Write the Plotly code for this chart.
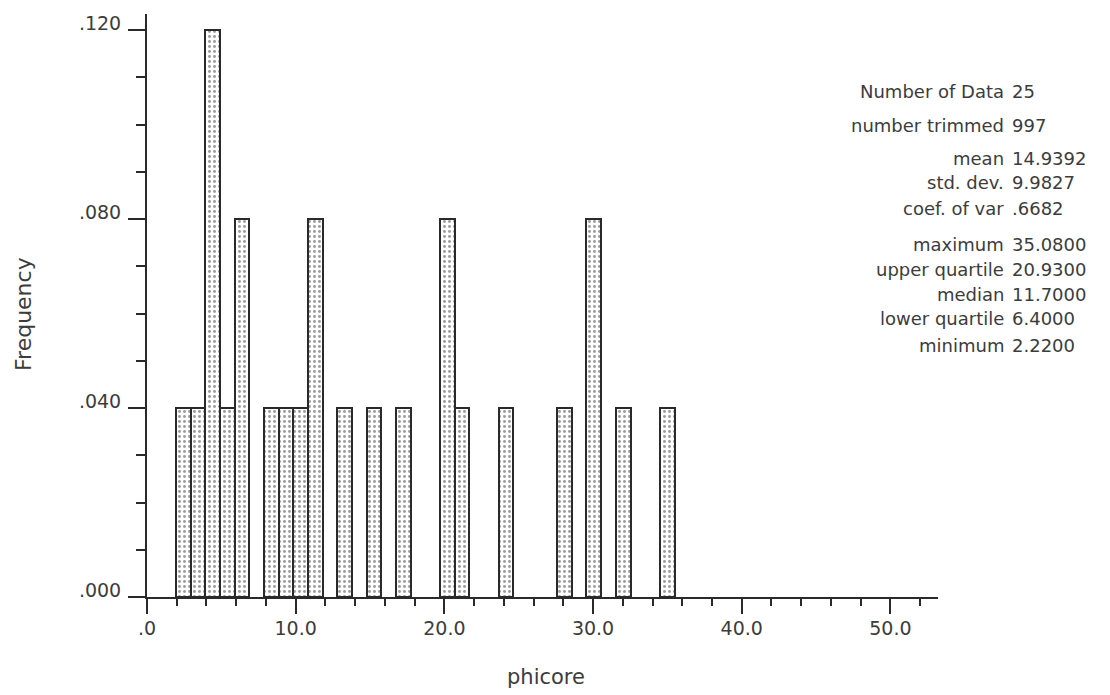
import plotly.graph_objects as go

# Histogram of phicore: bin centres and relative frequencies
bin_centers = [2.44, 3.43, 4.41, 5.40, 6.39, 8.36, 9.35, 10.33, 11.32, 13.30,
               15.27, 17.24, 20.20, 21.18, 24.14, 28.08, 30.05, 32.03, 34.99]
frequencies = [0.04, 0.04, 0.12, 0.04, 0.08, 0.04, 0.04, 0.04, 0.08, 0.04,
               0.04, 0.04, 0.08, 0.04, 0.04, 0.04, 0.08, 0.04, 0.04]
bin_width = 0.986

x_tick_vals = [0, 10, 20, 30, 40, 50]
x_tick_text = [".0", "10.0", "20.0", "30.0", "40.0", "50.0"]
y_tick_vals = [0.0, 0.04, 0.08, 0.12]
y_tick_text = [".000", ".040", ".080", ".120"]

# Summary statistics printed beside the histogram
stat_names = ["Number of Data", "number trimmed", "mean", "std. dev.", "coef. of var",
              "maximum", "upper quartile", "median", "lower quartile", "minimum"]
stat_values = ["25", "997", "14.9392", "9.9827", ".6682",
               "35.0800", "20.9300", "11.7000", "6.4000", "2.2200"]
stat_rows_px = [90, 124, 157, 181, 207, 243, 268, 293, 318, 345]

INK = "#2a2a2a"
TEXT = "#3c3c3c"
FONT = "DejaVu Sans"

W, H = 1110, 695
L, R, T, B = 147, 172, 12, 98
plot_w = W - L - R
plot_h = H - T - B

fig = go.Figure()
fig.add_trace(go.Bar(
    x=bin_centers,
    y=frequencies,
    width=bin_width,
    marker=dict(
        color="white",
        line=dict(color=INK, width=2),
        pattern=dict(shape=".", fgcolor="#3a3a3a", bgcolor="white",
                     size=5, solidity=0.28),
    ),
    showlegend=False,
    hoverinfo="skip",
))

fig.update_layout(
    width=W, height=H,
    margin=dict(l=L, r=R, t=T, b=B, pad=0),
    paper_bgcolor="white",
    plot_bgcolor="white",
    font=dict(family=FONT, size=19, color=TEXT),
    bargap=0,
    xaxis=dict(
        range=[0, 53.2],
        showgrid=False, zeroline=False,
        showline=True, linecolor=INK, linewidth=2,
        ticks="outside", ticklen=15, tickwidth=1.5, tickcolor=INK,
        tickmode="array", tickvals=x_tick_vals, ticktext=x_tick_text,
        ticklabelstandoff=-2,
        tickfont=dict(family=FONT, size=19, color=TEXT),
        minor=dict(ticks="outside", ticklen=7, tickwidth=1.5, tickcolor=INK,
                   dtick=2, tick0=0, showgrid=False),
    ),
    yaxis=dict(
        range=[0, 0.1234],
        showgrid=False, zeroline=False,
        showline=True, linecolor=INK, linewidth=2,
        ticks="outside", ticklen=17, tickwidth=1.5, tickcolor=INK,
        tickmode="array", tickvals=y_tick_vals, ticktext=y_tick_text,
        ticklabelstandoff=3, ticklabelshift=-7,
        tickfont=dict(family=FONT, size=19, color=TEXT),
        minor=dict(ticks="outside", ticklen=9, tickwidth=1.5, tickcolor=INK,
                   dtick=0.01, tick0=0, showgrid=False),
    ),
)


def px_to_paper_x(px):
    return (px - L) / plot_w


def px_to_paper_y(py):
    return (H - B - py) / plot_h


# Axis titles
fig.add_annotation(text="phicore", x=px_to_paper_x(546), y=px_to_paper_y(677),
                   xref="paper", yref="paper", showarrow=False,
                   xanchor="center", yanchor="middle",
                   font=dict(family=FONT, size=21, color=TEXT))
fig.add_annotation(text="Frequency", x=px_to_paper_x(24), y=px_to_paper_y(313),
                   xref="paper", yref="paper", showarrow=False, textangle=-90,
                   xanchor="center", yanchor="middle",
                   font=dict(family=FONT, size=22, color=TEXT))

# Statistics block: right-aligned names, left-aligned values
for name, val, ypx in zip(stat_names, stat_values, stat_rows_px):
    fig.add_annotation(text=name, x=px_to_paper_x(1006), y=px_to_paper_y(ypx),
                       xref="paper", yref="paper", showarrow=False,
                       xanchor="right", yanchor="middle",
                       font=dict(family=FONT, size=18, color=TEXT))
    fig.add_annotation(text=val, x=px_to_paper_x(1010), y=px_to_paper_y(ypx),
                       xref="paper", yref="paper", showarrow=False,
                       xanchor="left", yanchor="middle",
                       font=dict(family=FONT, size=18, color=TEXT))

fig.write_html("out.html")
